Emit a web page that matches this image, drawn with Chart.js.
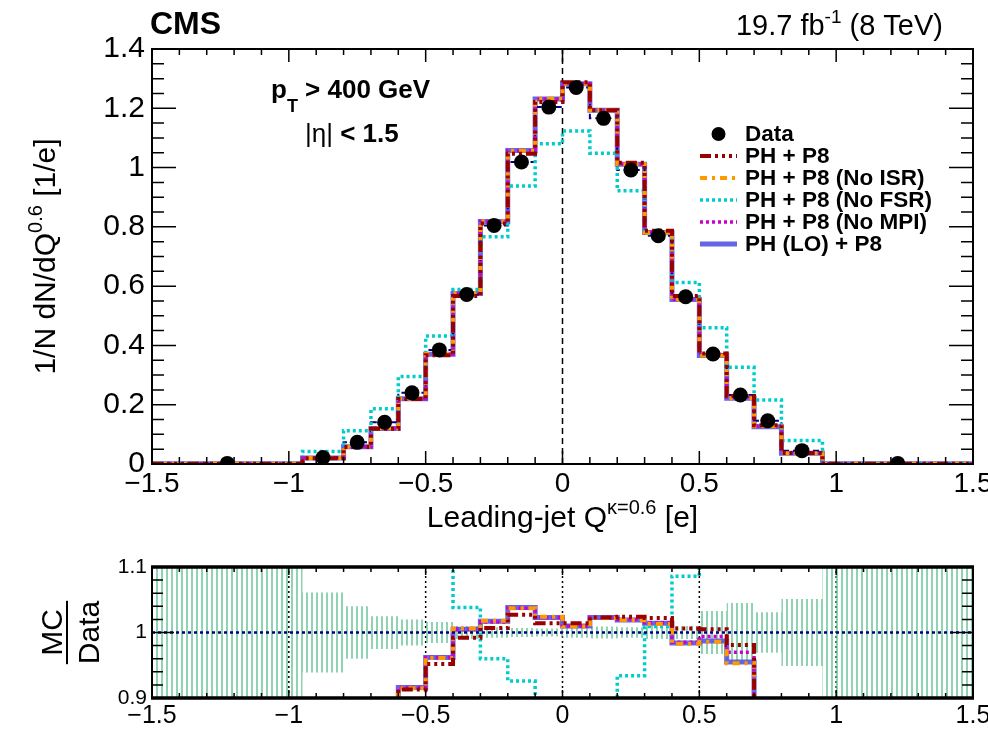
<!DOCTYPE html>
<html>
<head>
<meta charset="utf-8">
<script src="https://cdn.jsdelivr.net/npm/chart.js@4/dist/chart.umd.min.js"></script>
<style>
  body { margin: 0; background: #fff; width: 988px; height: 735px; overflow: hidden; position: relative; }
  #main { position: absolute; left: 0; top: 0; }
  #ratio { position: absolute; left: 0; top: 545px; }
</style>
</head>
<body>
<canvas id="main" width="988" height="545"></canvas>
<canvas id="ratio" width="988" height="190"></canvas>
<script>
// bin edges of the leading-jet charge histogram
const binEdges = [-1.5, -0.95, -0.8, -0.7, -0.6, -0.5, -0.4, -0.3, -0.2, -0.1, 0,
                  0.1, 0.2, 0.3, 0.4, 0.5, 0.6, 0.7, 0.8, 0.95, 1.5];

// main panel, 1/N dN/dQ
const dataValues = [0.002, 0.022, 0.073, 0.141, 0.240, 0.385, 0.572, 0.805, 1.019, 1.204,
                    1.270, 1.166, 0.992, 0.770, 0.564, 0.371, 0.233, 0.146, 0.045, 0.002];
const mcPH      = [0.001, 0.019, 0.057, 0.119, 0.219, 0.367, 0.567, 0.811, 1.047, 1.221,
                   1.288, 1.193, 1.016, 0.787, 0.567, 0.373, 0.229, 0.131, 0.037, 0.001];
const mcNoISR   = [0.001, 0.020, 0.058, 0.121, 0.220, 0.371, 0.576, 0.819, 1.057, 1.232,
                   1.283, 1.193, 1.011, 0.780, 0.555, 0.366, 0.222, 0.127, 0.036, 0.001];
const mcNoFSR   = [0.000, 0.042, 0.112, 0.186, 0.295, 0.432, 0.589, 0.767, 0.938, 1.080,
                   1.123, 1.048, 0.922, 0.778, 0.612, 0.460, 0.326, 0.216, 0.079, 0.001];
const mcNoMPI   = [0.001, 0.020, 0.058, 0.120, 0.220, 0.370, 0.575, 0.818, 1.057, 1.231,
                   1.283, 1.193, 1.012, 0.782, 0.556, 0.369, 0.226, 0.128, 0.036, 0.001];
const mcLO      = [0.001, 0.020, 0.058, 0.120, 0.220, 0.370, 0.575, 0.818, 1.058, 1.231,
                   1.283, 1.193, 1.011, 0.781, 0.555, 0.366, 0.222, 0.126, 0.036, 0.001];

// ratio panel, MC / Data
const ratioPH    = [0.5, 0.85, 0.78, 0.84, 0.913, 0.952, 0.992, 1.007, 1.027, 1.014,
                    1.014, 1.023, 1.024, 1.022, 1.006, 1.005, 0.981, 0.88, 0.80, 0.5];
const ratioNoISR = [0.5, 0.86, 0.79, 0.85, 0.915, 0.961, 1.006, 1.018, 1.037, 1.024,
                    1.009, 1.022, 1.019, 1.013, 0.983, 0.986, 0.953, 0.86, 0.80, 0.5];
const ratioNoFSR = [null, 1.8, 1.5, 1.3, 1.23, 1.12, 1.038, 0.960, 0.926, 0.899,
                    0.885, 0.898, 0.934, 1.009, 1.086, 1.24, 1.40, 1.48, 1.75, null];
const ratioNoMPI = [0.5, 0.86, 0.79, 0.85, 0.916, 0.962, 1.005, 1.016, 1.037, 1.023,
                    1.010, 1.023, 1.020, 1.015, 0.985, 0.994, 0.970, 0.87, 0.80, 0.5];
const ratioLO    = [0.5, 0.85, 0.80, 0.85, 0.916, 0.962, 1.005, 1.017, 1.038, 1.023,
                    1.010, 1.023, 1.019, 1.014, 0.984, 0.987, 0.955, 0.86, 0.80, 0.5];
const dataRatio  = [1, 1, 1, 1, 1, 1, 1, 1, 1, 1, 1, 1, 1, 1, 1, 1, 1, 1, 1, 1];
const dataStatErr = [0.2, 0.061, 0.040, 0.025, 0.020, 0.016, 0.010, 0.008, 0.007, 0.006,
                     0.008, 0.009, 0.008, 0.010, 0.010, 0.033, 0.045, 0.031, 0.051, 0.2];

// tick labels
const xTicks = [-1.5, -1, -0.5, 0, 0.5, 1, 1.5];
const yTicksMain = [0, 0.2, 0.4, 0.6, 0.8, 1, 1.2, 1.4];
const yTicksRatio = [0.9, 1, 1.1];

const seriesLabels = ['PH + P8', 'PH + P8 (No ISR)', 'PH + P8 (No FSR)', 'PH + P8 (No MPI)', 'PH (LO) + P8'];

Chart.defaults.font.family = '"Liberation Sans", Arial, sans-serif';
Chart.defaults.color = '#000';

const FONT = '"Liberation Sans", Arial, sans-serif';
const styles = [
  { color: '#990000', dash: [11, 4, 3, 4, 3, 4, 3, 4], width: 4 },
  { color: '#ff9900', dash: [7, 5, 3, 5], width: 4 },
  { color: '#00cccc', dash: [3, 3], width: 3.5 },
  { color: '#cc00cc', dash: [3, 3], width: 3.5 },
  { color: 'rgba(85,85,225,0.9)', dash: [], width: 5 }
];

function steps(values) {
  const pts = values.map((v, i) => ({ x: binEdges[i], y: v }));
  pts.push({ x: binEdges[binEdges.length - 1], y: values[values.length - 1] });
  return pts;
}
function centers(values) {
  return values.map((v, i) => ({ x: (binEdges[i] + binEdges[i + 1]) / 2, y: v }));
}
function histo(label, values, st, order, extra) {
  return Object.assign({
    label, data: steps(values), stepped: 'before', borderColor: st.color,
    borderDash: st.dash, borderWidth: st.width, pointRadius: 0, fill: false,
    borderCapStyle: 'butt', borderJoinStyle: 'miter', order, inLegend: true
  }, extra || {});
}
function fmt(v) {
  return String(+v.toFixed(2)).replace('-', '\u2212');
}

function tickLoop(min, max, step, major, fn) {
  const n = Math.round((max - min) / step);
  for (let i = 0; i <= n; i++) {
    const v = min + i * step;
    fn(v, Math.abs(v / major - Math.round(v / major)) < 1e-6);
  }
}

function rich(ctx, parts, x, y, align) {
  let w = 0;
  parts.forEach(p => { ctx.font = p.f; w += ctx.measureText(p.t).width; });
  let cx = align === 'center' ? x - w / 2 : align === 'right' ? x - w : x;
  ctx.textAlign = 'left';
  ctx.textBaseline = 'alphabetic';
  parts.forEach(p => {
    ctx.font = p.f;
    ctx.fillText(p.t, cx, y + (p.dy || 0));
    cx += ctx.measureText(p.t).width;
  });
}

// ROOT style frame with inward ticks on all four sides
function frame(chart, o) {
  const { ctx, chartArea: a, scales: { x, y } } = chart;
  ctx.save();
  ctx.strokeStyle = '#000';
  ctx.lineWidth = 1.5;
  ctx.beginPath();
  tickLoop(x.min, x.max, o.xMinor, o.xMajor, (v, maj) => {
    const px = x.getPixelForValue(v);
    const l = maj ? o.xMajLen : o.xMinLen;
    ctx.moveTo(px, a.bottom); ctx.lineTo(px, a.bottom - l);
    ctx.moveTo(px, a.top); ctx.lineTo(px, a.top + (maj ? o.xMajLen : o.xTopLen));
  });
  tickLoop(y.min, y.max, o.yMinor, o.yMajor, (v, maj) => {
    const py = y.getPixelForValue(v);
    const l = maj ? o.yMajLen : o.yMinLen;
    ctx.moveTo(a.left, py); ctx.lineTo(a.left + l, py);
    ctx.moveTo(a.right, py); ctx.lineTo(a.right - l, py);
  });
  ctx.stroke();
  ctx.lineWidth = o.sideWidth;
  ctx.beginPath();
  ctx.moveTo(a.left, a.top); ctx.lineTo(a.left, a.bottom);
  ctx.moveTo(a.right, a.top); ctx.lineTo(a.right, a.bottom);
  ctx.stroke();
  ctx.lineWidth = o.hWidth;
  ctx.beginPath();
  ctx.moveTo(a.left - 1, a.top); ctx.lineTo(a.right + 1, a.top);
  ctx.moveTo(a.left - 1, a.bottom); ctx.lineTo(a.right + 1, a.bottom);
  ctx.stroke();
  ctx.restore();
}

const mainPlugin = {
  id: 'mainDecor',
  beforeDatasetsDraw(chart) {
    const { ctx, chartArea: a, scales: { x } } = chart;
    ctx.save();
    ctx.strokeStyle = '#000';
    ctx.lineWidth = 1.5;
    ctx.setLineDash([6, 4]);
    ctx.beginPath();
    const px = x.getPixelForValue(0);
    ctx.moveTo(px, a.bottom); ctx.lineTo(px, a.top);
    ctx.stroke();
    ctx.restore();
  },
  afterDatasetsDraw(chart) {
    frame(chart, { xMinor: 0.1, xMajor: 0.5, xMajLen: 13, xMinLen: 7, xTopLen: 6,
                   yMinor: 0.05, yMajor: 0.2, yMajLen: 24, yMinLen: 12, sideWidth: 2, hWidth: 2 });
  },
  afterDraw(chart) {
    const ctx = chart.ctx;
    ctx.save();
    ctx.fillStyle = '#000';
    rich(ctx, [{ t: 'CMS', f: `bold 32px ${FONT}` }], 150, 34, 'left');
    rich(ctx, [
      { t: '19.7 fb', f: `29px ${FONT}` },
      { t: '-1', f: `19px ${FONT}`, dy: -12 },
      { t: ' (8 TeV)', f: `29px ${FONT}` }
    ], 943, 35, 'right');
    rich(ctx, [
      { t: 'p', f: `bold 26px ${FONT}` },
      { t: 'T', f: `bold 18px ${FONT}`, dy: 14 },
      { t: ' > 400 GeV', f: `bold 26px ${FONT}` }
    ], 271, 98, 'left');
    rich(ctx, [
      { t: '|\u03b7|', f: `26px ${FONT}` },
      { t: ' < 1.5', f: `bold 26px ${FONT}` }
    ], 305, 142, 'left');

    // axis titles
    const a = chart.chartArea;
    rich(ctx, [
      { t: 'Leading-jet Q', f: `30px ${FONT}` },
      { t: '\u03ba=0.6', f: `20px ${FONT}`, dy: -13 },
      { t: ' [e]', f: `30px ${FONT}` }
    ], (a.left + a.right) / 2, 527, 'center');
    ctx.save();
    ctx.translate(55, (a.top + a.bottom) / 2);
    ctx.rotate(-Math.PI / 2);
    rich(ctx, [
      { t: '1/N dN/dQ', f: `30px ${FONT}` },
      { t: '0.6', f: `20px ${FONT}`, dy: -13 },
      { t: ' [1/e]', f: `30px ${FONT}` }
    ], 0, 0, 'center');
    ctx.restore();

    // legend
    const rowY = 134, rowH = 22, x0 = 700, x1 = 737;
    ctx.font = `bold 22.5px ${FONT}`;
    ctx.textBaseline = 'middle';
    ctx.textAlign = 'left';
    ctx.beginPath();
    ctx.arc((x0 + x1) / 2, rowY, 7, 0, Math.PI * 2);
    ctx.fill();
    ctx.fillText('Data', 745, rowY + 1);
    const items = chart.data.datasets.filter(d => d.inLegend).sort((p, q) => p.legendRank - q.legendRank);
    items.forEach((d, i) => {
      const yy = rowY + rowH * (i + 1);
      ctx.save();
      ctx.strokeStyle = d.borderColor;
      ctx.lineWidth = d.borderWidth;
      ctx.setLineDash(d.borderDash);
      ctx.beginPath();
      ctx.moveTo(x0, yy); ctx.lineTo(x1, yy);
      ctx.stroke();
      ctx.restore();
      ctx.fillText(d.label, 745, yy + 1);
    });
    ctx.restore();
  }
};

const mcMain = [mcPH, mcNoISR, mcNoFSR, mcNoMPI, mcLO];
const drawOrder = [1, 2, 4, 3, 6];

new Chart(document.getElementById('main'), {
  type: 'line',
  data: {
    datasets: [
      { label: 'Data', data: centers(dataValues), showLine: false, pointRadius: 7.5,
        pointBackgroundColor: '#000', pointBorderColor: '#000', pointBorderWidth: 0, order: 0 },
      { label: 'Data histogram', data: steps(dataValues), stepped: 'before', borderColor: '#000080',
        borderDash: [6, 4], borderWidth: 2, pointRadius: 0, fill: false, order: 5 }
    ].concat(mcMain.map((vals, i) => histo(seriesLabels[i], vals, styles[i], drawOrder[i], { legendRank: i })))
  },
  options: {
    responsive: false,
    animation: false,
    layout: { padding: { top: 49, right: 15, left: 0, bottom: 0 } },
    plugins: { legend: { display: false }, tooltip: { enabled: false } },
    scales: {
      x: {
        type: 'linear', min: -1.5, max: 1.5,
        afterBuildTicks: s => { s.ticks = xTicks.map(v => ({ value: v })); },
        ticks: { callback: fmt, font: { size: 28 }, padding: 3, maxRotation: 0, autoSkip: false },
        grid: { display: false, drawTicks: false, tickLength: 0 },
        border: { display: false },
        afterFit: s => { s.height = 81; s.paddingLeft = 0; s.paddingRight = 0; }
      },
      y: {
        type: 'linear', min: 0, max: 1.4,
        afterBuildTicks: s => { s.ticks = yTicksMain.map(v => ({ value: v })); },
        ticks: { callback: fmt, font: { size: 30 }, padding: 7, autoSkip: false },
        grid: { display: false, drawTicks: false, tickLength: 0 },
        border: { display: false },
        afterFit: s => { s.width = 152; s.paddingTop = 0; s.paddingBottom = 0; }
      }
    }
  },
  plugins: [mainPlugin]
});

// ratio panel
function hatch() {
  const c = document.createElement('canvas');
  c.width = 5; c.height = 8;
  const g = c.getContext('2d');
  g.fillStyle = 'rgba(105,195,155,0.75)';
  g.fillRect(1, 0, 2, 8);
  return g.createPattern(c, 'repeat');
}

const ratioPlugin = {
  id: 'ratioDecor',
  beforeDatasetsDraw(chart) {
    const { ctx, chartArea: a, scales: { x } } = chart;
    ctx.save();
    ctx.strokeStyle = '#000';
    ctx.lineWidth = 1.5;
    ctx.setLineDash([2, 3]);
    ctx.beginPath();
    [-1, -0.5, 0, 0.5, 1].forEach(v => {
      const px = x.getPixelForValue(v);
      ctx.moveTo(px, a.bottom); ctx.lineTo(px, a.top);
    });
    ctx.stroke();
    ctx.restore();
  },
  afterDatasetsDraw(chart) {
    frame(chart, { xMinor: 0.1, xMajor: 0.5, xMajLen: 8, xMinLen: 5, xTopLen: 5,
                   yMinor: 0.02, yMajor: 0.1, yMajLen: 22, yMinLen: 11, sideWidth: 2, hWidth: 3.5 });
  },
  afterDraw(chart) {
    const ctx = chart.ctx;
    const a = chart.chartArea;
    ctx.save();
    ctx.fillStyle = '#000';
    ctx.translate(0, (a.top + a.bottom) / 2);
    ctx.rotate(-Math.PI / 2);
    ctx.font = `30px ${FONT}`;
    ctx.textAlign = 'center';
    ctx.textBaseline = 'alphabetic';
    ctx.fillText('MC', 0, 62);
    ctx.fillText('Data', 0, 99);
    const w = ctx.measureText('Data').width;
    ctx.fillRect(-w / 2, 66, w, 2);
    ctx.restore();
  }
};

const ratioVals = [ratioPH, ratioNoISR, ratioNoFSR, ratioNoMPI, ratioLO];
const bandHigh = dataStatErr.map(e => 1 + e);
const bandLow = dataStatErr.map(e => 1 - e);

new Chart(document.getElementById('ratio'), {
  type: 'line',
  data: {
    datasets: [
      { label: 'stat high', data: steps(bandHigh), stepped: 'before', borderWidth: 0,
        pointRadius: 0, fill: false, order: 10 },
      { label: 'stat low', data: steps(bandLow), stepped: 'before', borderWidth: 0,
        pointRadius: 0, fill: '-1', backgroundColor: hatch(), order: 9 },
      { label: 'Data / Data', data: steps(dataRatio), stepped: 'before', borderColor: '#000080',
        borderDash: [3, 3], borderWidth: 2.5, pointRadius: 0, fill: false, order: 0 }
    ].concat(ratioVals.map((vals, i) => histo(seriesLabels[i], vals, styles[i], drawOrder[i], { inLegend: false })))
  },
  options: {
    responsive: false,
    animation: false,
    layout: { padding: { top: 22, right: 15, left: 0, bottom: 0 } },
    plugins: { legend: { display: false }, tooltip: { enabled: false } },
    scales: {
      x: {
        type: 'linear', min: -1.5, max: 1.5,
        afterBuildTicks: s => { s.ticks = xTicks.map(v => ({ value: v })); },
        ticks: { callback: fmt, font: { size: 25 }, padding: 3, maxRotation: 0, autoSkip: false },
        grid: { display: false, drawTicks: false, tickLength: 0 },
        border: { display: false },
        afterFit: s => { s.height = 37; s.paddingLeft = 0; s.paddingRight = 0; }
      },
      y: {
        type: 'linear', min: 0.9, max: 1.1,
        afterBuildTicks: s => { s.ticks = yTicksRatio.map(v => ({ value: v })); },
        ticks: { callback: fmt, font: { size: 21 }, padding: 5, autoSkip: false },
        grid: { display: false, drawTicks: false, tickLength: 0 },
        border: { display: false },
        afterFit: s => { s.width = 152; s.paddingTop = 0; s.paddingBottom = 0; }
      }
    }
  },
  plugins: [ratioPlugin]
});
</script>
</body>
</html>
